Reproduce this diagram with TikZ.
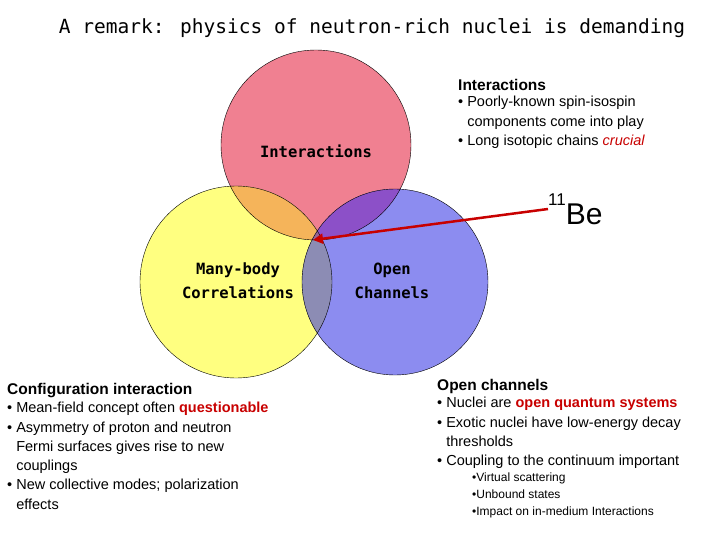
\documentclass[tikz,border=0pt]{standalone}
\usepackage{fontspec}
\setmainfont{Liberation Sans}
\newfontfamily\comic{DejaVu Sans Mono}
\usetikzlibrary{arrows.meta}
\definecolor{cred}{RGB}{240,128,145}
\definecolor{cyel}{RGB}{255,255,128}
\definecolor{cblu}{RGB}{140,140,240}
\definecolor{cora}{RGB}{245,180,90}
\definecolor{cpur}{RGB}{140,80,200}
\definecolor{cgry}{RGB}{140,140,180}
\definecolor{cmid}{RGB}{150,100,150}
\definecolor{dred}{RGB}{200,0,0}
\tikzset{circ/.style={draw=black,line width=0.4pt},
 lab/.style={font=\comic\bfseries\fontsize{15.5}{24}\selectfont,align=center},
 body/.style={font=\fontsize{14.5}{19.3}\selectfont,align=left,anchor=north west,inner sep=0pt},
 head/.style={font=\bfseries\fontsize{15.5}{18}\selectfont,anchor=west,inner sep=0pt}}
\begin{document}
\begin{tikzpicture}[x=1pt,y=-1pt]
\useasboundingbox (0,0) rectangle (720,540);
\coordinate (R) at (316,145);
\coordinate (Y) at (236,282);
\coordinate (B) at (395,282);
\fill[cred] (R) circle (95);
\fill[cyel] (Y) circle (96);
\fill[cblu] (B) circle (93);
\begin{scope}\clip (R) circle (95); \fill[cora] (Y) circle (96);\end{scope}
\begin{scope}\clip (R) circle (95); \fill[cpur] (B) circle (93);\end{scope}
\begin{scope}\clip (Y) circle (96); \fill[cgry] (B) circle (93);\end{scope}
\begin{scope}\clip (R) circle (95); \clip (Y) circle (96); \fill[cmid] (B) circle (93);\end{scope}
\draw[circ] (R) circle (95);
\draw[circ] (Y) circle (96);
\draw[circ] (B) circle (93);
\node[font=\comic\fontsize{19.5}{22}\selectfont] (title) at (372,28) {A remark: physics of neutron-rich nuclei is demanding};
\node[lab] (li) at (316,151) {Interactions};
\node[lab] (lm) at (238,281) {Many-body\\Correlations};
\node[lab] (lo) at (392,281) {Open\\Channels};
\node[head] (hi) at (458,85) {Interactions};
\node[body] (ti) at (458,96) {• Poorly-known spin-isospin\\\hphantom{• }components come into play\\• Long isotopic chains \textcolor{dred}{\itshape crucial}};
\node[font=\fontsize{30}{32}\selectfont,anchor=west,inner sep=0pt] (be) at (548,209) {\raisebox{1.2ex}{\fontsize{17}{18}\selectfont 11}Be};
\coordinate (tip) at (313,240);
\draw[dred,line width=2.5pt,-{Triangle[length=10pt,width=10pt]}] (be.west) -- (tip);
\node[head] (hc) at (7,391) {Configuration interaction};
\node[body] (tc) at (7,402) {• Mean-field concept often \textcolor{dred}{\bfseries questionable}\\• Asymmetry of proton and neutron\\\hphantom{• }Fermi surfaces gives rise to new\\\hphantom{• }couplings\\• New collective modes; polarization\\\hphantom{• }effects};
\node[head] (ho) at (437,386) {Open channels};
\node[body] (to) at (437,397) {• Nuclei are \textcolor{dred}{\bfseries open quantum systems}\\• Exotic nuclei have low-energy decay\\\hphantom{• }thresholds\\• Coupling to the continuum important};
\node[body,font=\fontsize{12}{17}\selectfont] (tv) at (472,473) {•Virtual scattering\\•Unbound states\\•Impact on in-medium Interactions};
\end{tikzpicture}
\end{document}
